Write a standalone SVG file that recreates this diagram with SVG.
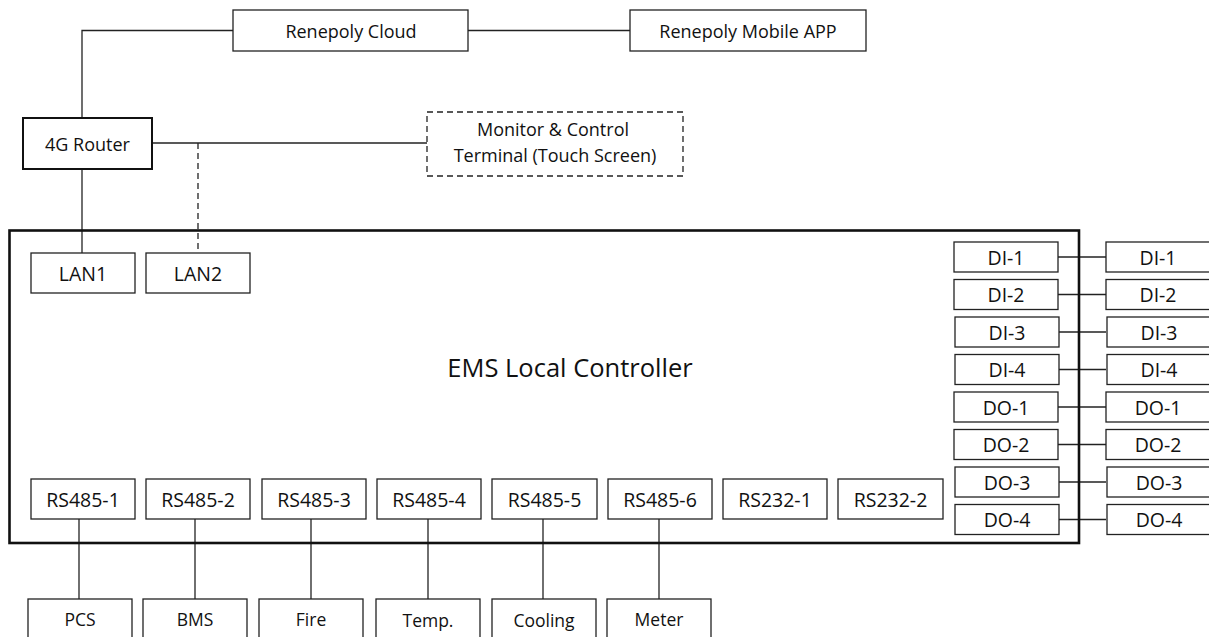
<svg xmlns="http://www.w3.org/2000/svg" width="1209" height="637" viewBox="0 0 1209 637">
  <style>
    .box { fill: #fff; stroke: #222; stroke-width: 1.3; }
    .thick { fill: #fff; stroke: #111; stroke-width: 2; }
    .dash { fill: #fff; stroke: #222; stroke-width: 1.3; stroke-dasharray: 6 4; }
    .main { fill: none; stroke: #111; stroke-width: 2.6; }
    .wire { fill: none; stroke: #222; stroke-width: 1.3; }
    .wire-dash { fill: none; stroke: #222; stroke-width: 1.3; stroke-dasharray: 6 4; }
    text { font-family: "Open Sans", "Liberation Sans", sans-serif; font-size: 18px; fill: #111; text-anchor: middle; dominant-baseline: central; }
    .port { font-size: 19.5px; }
    .dev { font-size: 17.5px; }
    .big { font-size: 25.5px; }
  </style>

  <!-- connectors -->
  <g id="connectors">
    <polyline class="wire" points="233,30.5 82,30.5 82,118"/>
    <line class="wire" x1="468" y1="30.5" x2="630" y2="30.5"/>
    <line class="wire" x1="152" y1="143" x2="427" y2="143"/>
    <line class="wire-dash" x1="198" y1="143" x2="198" y2="253"/>
    <line class="wire" x1="82" y1="169" x2="82" y2="253"/>
    <line class="wire" x1="79" y1="519" x2="79" y2="599"/>
    <line class="wire" x1="195" y1="519" x2="195" y2="599"/>
    <line class="wire" x1="311" y1="519" x2="311" y2="599"/>
    <line class="wire" x1="428" y1="519" x2="428" y2="599"/>
    <line class="wire" x1="543" y1="519" x2="543" y2="599"/>
    <line class="wire" x1="659" y1="519" x2="659" y2="599"/>
    <line class="wire" x1="1058" y1="257" x2="1106" y2="257"/>
    <line class="wire" x1="1058" y1="294.5" x2="1106" y2="294.5"/>
    <line class="wire" x1="1058" y1="332" x2="1106" y2="332"/>
    <line class="wire" x1="1058" y1="369.5" x2="1106" y2="369.5"/>
    <line class="wire" x1="1058" y1="407" x2="1106" y2="407"/>
    <line class="wire" x1="1058" y1="444.5" x2="1106" y2="444.5"/>
    <line class="wire" x1="1058" y1="482" x2="1106" y2="482"/>
    <line class="wire" x1="1058" y1="519.5" x2="1106" y2="519.5"/>
  </g>

  <!-- cloud side -->
  <g id="cloud"><rect class="box" x="233" y="10" width="235" height="41"/><text x="351" y="31">Renepoly Cloud</text></g>
  <g id="mobile-app"><rect class="box" x="630" y="10" width="236" height="41"/><text x="748" y="31">Renepoly Mobile APP</text></g>
  <g id="router"><rect class="thick" x="23" y="118" width="129" height="51"/><text x="87.5" y="143.5">4G Router</text></g>
  <g id="terminal"><rect class="dash" x="427" y="112" width="256" height="64"/><text x="553" y="129">Monitor &amp; Control</text><text x="555" y="155">Terminal (Touch Screen)</text></g>

  <!-- controller -->
  <g id="ems-controller">
    <rect class="main" x="9.5" y="230.5" width="1069.5" height="312.5"/>
    <text class="big" x="570" y="367">EMS Local Controller</text>
  </g>

  <!-- controller ports -->
  <g id="lan1"><rect class="box" x="31" y="253" width="104" height="40"/><text class="port" x="83" y="273">LAN1</text></g>
  <g id="lan2"><rect class="box" x="146" y="253" width="104" height="40"/><text class="port" x="198" y="273">LAN2</text></g>

  <g id="rs485-1"><rect class="box" x="31" y="479" width="104" height="40"/><text class="port" x="83" y="499">RS485-1</text></g>
  <g id="rs485-2"><rect class="box" x="146" y="479" width="104" height="40"/><text class="port" x="198" y="499">RS485-2</text></g>
  <g id="rs485-3"><rect class="box" x="262" y="479" width="104" height="40"/><text class="port" x="314" y="499">RS485-3</text></g>
  <g id="rs485-4"><rect class="box" x="377" y="479" width="104" height="40"/><text class="port" x="429" y="499">RS485-4</text></g>
  <g id="rs485-5"><rect class="box" x="492" y="479" width="105" height="40"/><text class="port" x="544.5" y="499">RS485-5</text></g>
  <g id="rs485-6"><rect class="box" x="608" y="479" width="104" height="40"/><text class="port" x="660" y="499">RS485-6</text></g>
  <g id="rs232-1"><rect class="box" x="723" y="479" width="104" height="40"/><text class="port" x="775" y="499">RS232-1</text></g>
  <g id="rs232-2"><rect class="box" x="838" y="479" width="105" height="40"/><text class="port" x="890.5" y="499">RS232-2</text></g>

  <g id="di-1"><rect class="box" x="954" y="242" width="104" height="30"/><text class="port" x="1006" y="257">DI-1</text></g>
  <g id="di-2"><rect class="box" x="954" y="279.5" width="104" height="30"/><text class="port" x="1006" y="294.5">DI-2</text></g>
  <g id="di-3"><rect class="box" x="955" y="317" width="104" height="30"/><text class="port" x="1007" y="332">DI-3</text></g>
  <g id="di-4"><rect class="box" x="955" y="354.5" width="104" height="30"/><text class="port" x="1007" y="369.5">DI-4</text></g>
  <g id="do-1"><rect class="box" x="954" y="392" width="104" height="30"/><text class="port" x="1006" y="407">DO-1</text></g>
  <g id="do-2"><rect class="box" x="954" y="429.5" width="104" height="30"/><text class="port" x="1006" y="444.5">DO-2</text></g>
  <g id="do-3"><rect class="box" x="955" y="467" width="104" height="30"/><text class="port" x="1007" y="482">DO-3</text></g>
  <g id="do-4"><rect class="box" x="955" y="504.5" width="104" height="30"/><text class="port" x="1007" y="519.5">DO-4</text></g>

  <!-- external I/O -->
  <g id="ext-di-1"><rect class="box" x="1106" y="242" width="110" height="30"/><text class="port" x="1158" y="257">DI-1</text></g>
  <g id="ext-di-2"><rect class="box" x="1106" y="279.5" width="110" height="30"/><text class="port" x="1158" y="294.5">DI-2</text></g>
  <g id="ext-di-3"><rect class="box" x="1107" y="317" width="110" height="30"/><text class="port" x="1159" y="332">DI-3</text></g>
  <g id="ext-di-4"><rect class="box" x="1107" y="354.5" width="110" height="30"/><text class="port" x="1159" y="369.5">DI-4</text></g>
  <g id="ext-do-1"><rect class="box" x="1106" y="392" width="110" height="30"/><text class="port" x="1158" y="407">DO-1</text></g>
  <g id="ext-do-2"><rect class="box" x="1106" y="429.5" width="110" height="30"/><text class="port" x="1158" y="444.5">DO-2</text></g>
  <g id="ext-do-3"><rect class="box" x="1107" y="467" width="110" height="30"/><text class="port" x="1159" y="482">DO-3</text></g>
  <g id="ext-do-4"><rect class="box" x="1107" y="504.5" width="110" height="30"/><text class="port" x="1159" y="519.5">DO-4</text></g>

  <!-- field devices -->
  <g id="pcs"><rect class="box" x="28" y="599" width="104" height="45"/><text class="dev" x="80" y="619">PCS</text></g>
  <g id="bms"><rect class="box" x="143" y="599" width="104" height="45"/><text class="dev" x="195" y="619">BMS</text></g>
  <g id="fire"><rect class="box" x="259" y="599" width="104" height="45"/><text class="dev" x="311" y="619">Fire</text></g>
  <g id="temp"><rect class="box" x="376" y="599" width="104" height="45"/><text class="dev" x="428" y="620">Temp.</text></g>
  <g id="cooling"><rect class="box" x="492" y="599" width="104" height="45"/><text class="dev" x="544" y="620">Cooling</text></g>
  <g id="meter"><rect class="box" x="607" y="599" width="104" height="45"/><text class="dev" x="659" y="619">Meter</text></g>
</svg>
